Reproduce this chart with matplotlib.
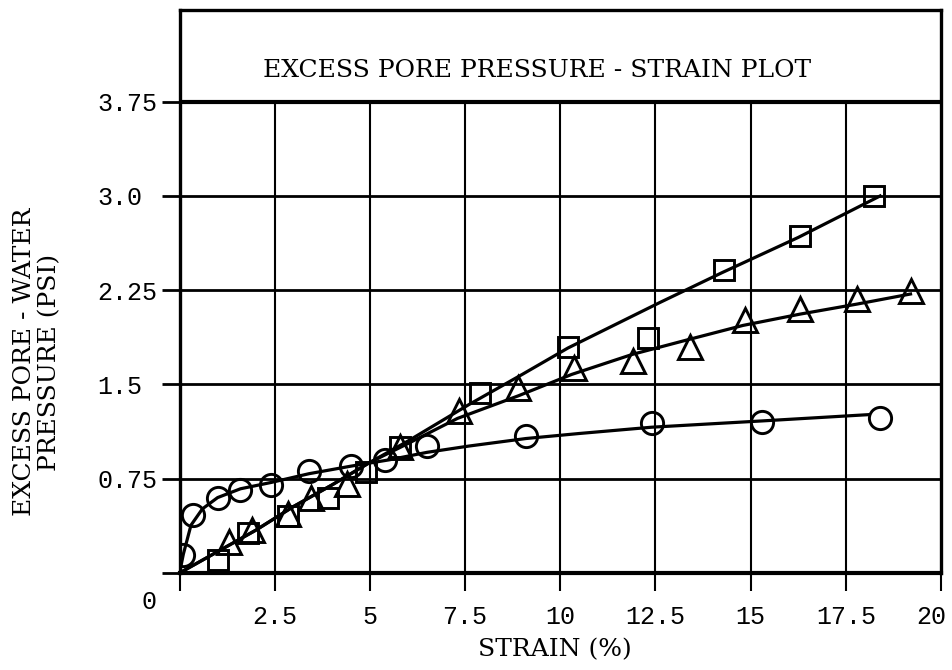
import matplotlib
matplotlib.use("Agg")
import matplotlib.pyplot as plt
from matplotlib.transforms import ScaledTranslation

# strain (%) vs excess pore pressure (psi)
circ_x = [0.1, 0.35, 1.0, 1.6, 2.4, 3.4, 4.5, 5.4, 6.5, 9.1, 12.4, 15.3, 18.4]
circ_y = [0.14, 0.46, 0.60, 0.66, 0.70, 0.81, 0.85, 0.90, 1.01, 1.09, 1.19, 1.20, 1.23]

sq_x = [1.0, 1.8, 2.85, 3.9, 4.9, 5.8, 7.9, 10.2, 12.3, 14.3, 16.3, 18.25]
sq_y = [0.10, 0.32, 0.45, 0.60, 0.80, 1.00, 1.43, 1.80, 1.87, 2.41, 2.68, 3.00]

tri_x = [1.3, 1.9, 2.85, 3.45, 4.4, 5.8, 7.35, 8.9, 10.35, 11.9, 13.4, 14.85, 16.3, 17.8, 19.2]
tri_y = [0.25, 0.34, 0.47, 0.60, 0.71, 1.00, 1.29, 1.47, 1.63, 1.69, 1.80, 2.01, 2.10, 2.18, 2.24]

# hand-drawn fit curves
circ_fit_x = [0, 0.1, 0.3, 0.6, 1.0, 1.6, 2.4, 3.4, 4.5, 5.5, 6.5, 7.6, 9.1, 10.5, 12.4, 15.3, 18.1]
circ_fit_y = [0, 0.15, 0.38, 0.51, 0.60, 0.67, 0.72, 0.79, 0.85, 0.90, 0.96, 1.01, 1.07, 1.11, 1.16, 1.21, 1.26]

sq_fit_x = [0, 1, 2, 3, 4, 5, 6, 7.6, 9, 10.2, 12.6, 14.25, 16.25, 18.4]
sq_fit_y = [0, 0.17, 0.34, 0.53, 0.70, 0.88, 1.05, 1.34, 1.58, 1.79, 2.15, 2.39, 2.67, 3.00]

tri_fit_x = [0, 1, 2, 3, 4, 5, 6, 7.3, 8.9, 10.3, 11.9, 13.4, 14.8, 16.3, 17.8, 19.2]
tri_fit_y = [0, 0.17, 0.34, 0.53, 0.70, 0.88, 1.03, 1.23, 1.41, 1.58, 1.74, 1.86, 1.97, 2.06, 2.14, 2.22]

x_ticks = [0, 2.5, 5, 7.5, 10, 12.5, 15, 17.5, 20]
x_labels = ["", "2.5", "5", "7.5", "10", "12.5", "15", "17.5", "20"]
y_ticks = [0, 0.75, 1.5, 2.25, 3.0, 3.75]
y_labels = ["", "0.75", "1.5", "2.25", "3.0", "3.75"]

TICK_FONT = "Liberation Mono"
TEXT_FONT = "DejaVu Serif"

fig = plt.figure(figsize=(9.53, 6.70), dpi=100)
ax = fig.add_axes([0.1884, 0.1448, 0.799, 0.8403])
ax.set_xlim(0, 20)
ax.set_ylim(0, 4.48)

# grid: verticals only below the 3.75 line, horizontals full width
ax.vlines(x_ticks[1:-1], 0, y_ticks[-1], color="k", lw=1.5, zorder=1)
for yv in y_ticks[1:-1]:
    ax.axhline(yv, color="k", lw=2.0, zorder=1)
ax.axhline(y_ticks[-1], color="k", lw=3.0, zorder=1)

lw = 2.3
ax.plot(circ_fit_x, circ_fit_y, color="k", lw=lw, zorder=2)
ax.plot(sq_fit_x, sq_fit_y, color="k", lw=lw, zorder=2)
ax.plot(tri_fit_x, tri_fit_y, color="k", lw=lw, zorder=2)

mk = dict(ls="none", mfc="none", mec="k", mew=2.1, zorder=3)
ax.plot(circ_x, circ_y, marker="o", ms=16, **mk)
ax.plot(sq_x, sq_y, marker="s", ms=15, **mk)
ax.plot(tri_x, tri_y, marker="^", ms=17, **mk)

for sp in ax.spines.values():
    sp.set_linewidth(2.4)
ax.spines["bottom"].set_linewidth(3.0)

ax.set_xticks(x_ticks)
ax.set_xticklabels(x_labels, fontfamily=TICK_FONT, fontsize=18)
ax.set_yticks(y_ticks)
ax.set_yticklabels(y_labels, fontfamily=TICK_FONT, fontsize=18)
ax.tick_params(axis="x", direction="out", length=13, width=1.5, pad=10)
ax.tick_params(axis="y", direction="out", length=13, width=2.0, pad=46)
for lbl in ax.get_yticklabels():
    lbl.set_horizontalalignment("left")
# last x label sits a little inside the frame edge, as in the scan
last = ax.get_xticklabels()[-1]
last.set_transform(last.get_transform() + ScaledTranslation(-0.10, 0, fig.dpi_scale_trans))

ax.text(0.469, 0.893, "EXCESS PORE PRESSURE - STRAIN PLOT", transform=ax.transAxes,
        ha="center", va="center", fontfamily=TEXT_FONT, fontsize=18)

fig.text(149 / 953, 1 - 602 / 670, "0", ha="center", va="center",
         fontfamily=TICK_FONT, fontsize=18)
fig.text(555 / 953, 1 - 650 / 670, "STRAIN (%)", ha="center", va="center",
         fontfamily=TEXT_FONT, fontsize=18)
fig.text(37 / 953, 1 - 362 / 670, "EXCESS PORE - WATER\nPRESSURE (PSI)", rotation=90,
         ha="center", va="center", multialignment="center", linespacing=1.1,
         fontfamily=TEXT_FONT, fontsize=18)

fig.savefig("out.png", dpi=100)
